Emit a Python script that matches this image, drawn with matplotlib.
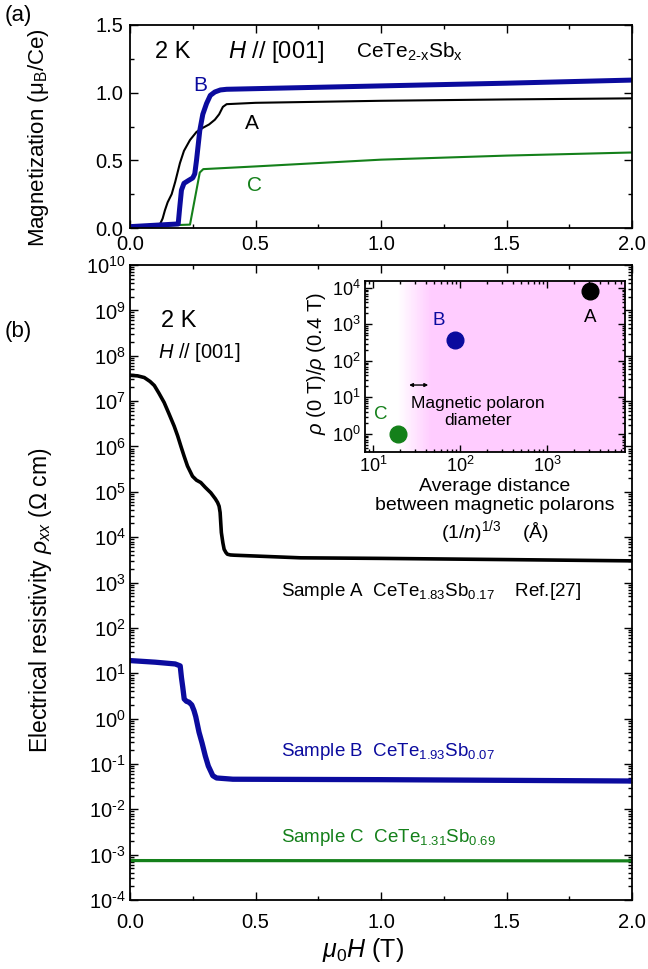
import numpy as np
import matplotlib
matplotlib.use("Agg")
import matplotlib.pyplot as plt
from matplotlib.ticker import (MultipleLocator, LogLocator, NullFormatter, FixedLocator,
                               FormatStrFormatter, FuncFormatter)

plt.rcParams['font.family'] = ['Liberation Sans', 'DejaVu Sans']
plt.rcParams['mathtext.fontset'] = 'custom'
plt.rcParams['mathtext.rm'] = 'Liberation Sans'
plt.rcParams['mathtext.it'] = 'Liberation Sans:italic'
plt.rcParams['mathtext.bf'] = 'Liberation Sans:bold'

# ---------------- data ----------------
# (a) magnetization, M (muB/Ce) vs mu0H (T)
magA_H = [0.0, 0.12, 0.13, 0.139, 0.15, 0.166, 0.18, 0.199, 0.215, 0.239, 0.265, 0.29, 0.315,
          0.338, 0.355, 0.37, 0.385, 0.5, 1.0, 1.5, 2.0]
magA_M = [0.01, 0.03, 0.07, 0.13, 0.19, 0.25, 0.34, 0.48, 0.57, 0.65, 0.71, 0.74, 0.765,
          0.80, 0.84, 0.895, 0.915, 0.925, 0.94, 0.95, 0.958]
magB_H = [0.0, 0.192, 0.198, 0.205, 0.215, 0.232, 0.25, 0.258, 0.265, 0.278, 0.29, 0.305,
          0.32, 0.338, 0.36, 0.385, 1.0, 1.5, 2.0]
magB_M = [0.01, 0.03, 0.15, 0.28, 0.33, 0.35, 0.37, 0.40, 0.50, 0.72, 0.84, 0.92,
          0.98, 1.005, 1.02, 1.025, 1.05, 1.07, 1.093]
magC_H = [0.0, 0.239, 0.278, 0.292, 0.5, 1.0, 1.5, 2.0]
magC_M = [0.01, 0.025, 0.41, 0.435, 0.455, 0.505, 0.535, 0.558]

# (b) resistivity rho_xx (Ohm cm) vs mu0H (T)
resA_H = [0.0, 0.03, 0.057, 0.08, 0.097, 0.115, 0.136, 0.155, 0.176, 0.19, 0.203, 0.216, 0.229,
          0.249, 0.265, 0.282, 0.30, 0.322, 0.34, 0.349, 0.355, 0.359, 0.364, 0.37, 0.375,
          0.382, 0.388, 0.40, 0.415, 0.68, 1.0, 1.5, 2.0]
resA_R = [3.7e7, 3.6e7, 3.3e7, 2.7e7, 2.2e7, 1.5e7, 9.3e6, 5.3e6, 2.8e6, 1.7e6, 1.0e6, 6.0e5, 3.7e5,
          2.2e5, 1.8e5, 1.6e5, 1.25e5, 9.5e4, 7.0e4, 5.8e4, 4.8e4, 3.5e4, 1.26e4, 7.5e3, 5.4e3,
          4.6e3, 4.2e3, 4.05e3, 4.0e3, 3.5e3, 3.4e3, 3.2e3, 3.0e3]
resB_H = [0.0, 0.1, 0.18, 0.2, 0.205, 0.21, 0.216, 0.225, 0.235, 0.246, 0.255, 0.262, 0.275,
          0.287, 0.30, 0.312, 0.33, 0.345, 0.41, 1.0, 2.0]
resB_R = [19, 17.5, 16, 14.5, 8, 5, 2.7, 2.4, 2.3, 2.0, 1.5, 1.1, 0.5,
          0.29, 0.15, 0.09, 0.055, 0.049, 0.046, 0.045, 0.042]
resC_H = [0.0, 1.0, 2.0]
resC_R = [7.4e-4, 7.35e-4, 7.3e-4]

# inset: average distance (A) vs rho(0T)/rho(0.4T)
ins_labels = ['A', 'B', 'C']
ins_dist = [3100, 86, 19]
ins_ratio = [8300, 380, 1.0]

sample_texts = [r'Sample A  CeTe$_{1.83}$Sb$_{0.17}$    Ref.[27]',
                r'Sample B  CeTe$_{1.93}$Sb$_{0.07}$',
                r'Sample C  CeTe$_{1.31}$Sb$_{0.69}$']

cA, cB, cC = 'black', '#0b0b9e', '#14801a'
pink = np.array([1.0, 0.80, 1.0])

W, Hh = 648, 969
fig = plt.figure(figsize=(6.48, 9.69), dpi=100)


def style(ax):
    ax.tick_params(which='both', direction='in', top=True, right=True, width=1.0)
    ax.tick_params(which='major', length=6)
    ax.tick_params(which='minor', length=3)
    for s in ax.spines.values():
        s.set_linewidth(1.3)


def pow10(v, pos):
    e = int(round(np.log10(v)))
    es = str(e).replace('-', r'\text{-}')
    return r'$10^{%s}$' % es


# ---------------- (a) ----------------
axa = fig.add_axes([130/W, 1-228/Hh, 502/W, 203/Hh])
axa.plot(magC_H, magC_M, color=cC, lw=1.5)
axa.plot(magA_H, magA_M, color=cA, lw=1.5)
axa.plot(magB_H, magB_M, color=cB, lw=3.6, solid_capstyle='round', solid_joinstyle='round')
axa.set_xlim(0, 2.0)
axa.set_ylim(0, 1.5)
axa.xaxis.set_major_locator(MultipleLocator(0.5))
axa.xaxis.set_minor_locator(MultipleLocator(0.25))
axa.yaxis.set_major_locator(MultipleLocator(0.5))
axa.yaxis.set_minor_locator(MultipleLocator(0.25))
axa.xaxis.set_major_formatter(FormatStrFormatter('%.1f'))
axa.yaxis.set_major_formatter(FormatStrFormatter('%.1f'))
style(axa)
axa.tick_params(labelsize=14.5, pad=5)
fig.text(39/W, 1-138/Hh, r'Magnetization ($\mathrm{\mu_B}$/Ce)', fontsize=16,
         rotation=90, ha='center', va='center')
axa.text(0.1, 1.30, '2 K', fontsize=17, va='center')
axa.text(0.39, 1.30, r'$H$ // [001]', fontsize=17, va='center')
axa.text(0.90, 1.30, r'CeTe$_{\mathrm{2\text{-}x}}$Sb$_{\mathrm{x}}$', fontsize=15, va='center')
axa.text(0.279, 1.056, 'B', fontsize=15, color=cB, ha='center', va='center')
axa.text(0.486, 0.775, 'A', fontsize=15, color=cA, ha='center', va='center')
axa.text(0.498, 0.316, 'C', fontsize=15, color=cC, ha='center', va='center')

# ---------------- (b) ----------------
axb = fig.add_axes([130/W, 1-900/Hh, 502/W, 635/Hh])
axb.plot(resC_H, resC_R, color=cC, lw=2.3)
axb.plot(resB_H, resB_R, color=cB, lw=3.8, solid_capstyle='round', solid_joinstyle='round')
axb.plot(resA_H, resA_R, color=cA, lw=2.6, solid_capstyle='round', solid_joinstyle='round')
axb.set_yscale('log')
axb.set_xlim(0, 2.0)
axb.set_ylim(1e-4, 1e10)
axb.xaxis.set_major_locator(MultipleLocator(0.5))
axb.xaxis.set_minor_locator(MultipleLocator(0.25))
axb.xaxis.set_major_formatter(FormatStrFormatter('%.1f'))
axb.yaxis.set_major_locator(LogLocator(base=10, numticks=30))
axb.yaxis.set_major_formatter(FuncFormatter(pow10))
axb.yaxis.set_minor_locator(LogLocator(base=10, subs=np.arange(2, 10), numticks=30))
axb.yaxis.set_minor_formatter(NullFormatter())
style(axb)
axb.tick_params(labelsize=14.5)
axb.tick_params(axis='x', pad=9)
axb.tick_params(axis='y', pad=3)
fig.text(41/W, 1-600/Hh, r'Electrical resistivity $\rho_{xx}$ ($\Omega$ cm)', fontsize=16.5,
         rotation=90, ha='center', va='center')
axb.set_xlabel(r'$\mu_0 H$ (T)', fontsize=18)
axb.xaxis.set_label_coords(0.465, -0.056)
axb.text(0.123, 10**8.77, '2 K', fontsize=17, va='center')
axb.text(0.111, 10**8.08, r'$H$ // [001]', fontsize=14.5, va='center')
for txt, yv, col in zip(sample_texts, [10**2.81, 10**-0.73, 10**-2.62], [cA, cB, cC]):
    axb.text(0.60, yv, txt, fontsize=13.5, color=col, va='center')

# ---------------- inset ----------------
axi = fig.add_axes([365/W, 1-452/Hh, 260/W, 171/Hh])
axi.set_xscale('log')
axi.set_yscale('log')
axi.set_xlim(8, 7800)
axi.set_ylim(0.32, 1.55e4)
edges = np.geomspace(19, 46, 40)
for i in range(len(edges) - 1):
    f = (i + 0.5) / (len(edges) - 1)
    col = 1 - f * (1 - pink)
    axi.axvspan(edges[i], edges[i + 1], color=col, lw=0, zorder=0)
axi.axvspan(46, 1e5, color=pink, lw=0, zorder=0)
for lab, xv, yv, col in zip(ins_labels, ins_dist, ins_ratio, [cA, cB, cC]):
    axi.plot(xv, yv, 'o', ms=12, color=col, zorder=3)
axi.text(10**3.49, 10**3.18, 'A', fontsize=13.5, color=cA, ha='center', va='center')
axi.text(10**1.75, 10**3.12, 'B', fontsize=13.5, color=cB, ha='center', va='center')
axi.text(10**1.08, 10**0.52, 'C', fontsize=13.5, color=cC, ha='center', va='center')
axi.annotate('', xy=(10**1.41, 10**1.34), xytext=(10**1.63, 10**1.34),
             arrowprops=dict(arrowstyle='<|-|>', color='black', lw=1.0,
                             mutation_scale=5, shrinkA=0, shrinkB=0))
axi.text(10**2.2, 10**0.6, 'Magnetic polaron\ndiameter', fontsize=12.5, ha='center',
         va='center', linespacing=1.1)
axi.xaxis.set_major_locator(FixedLocator([10, 100, 1000]))
axi.xaxis.set_major_formatter(FuncFormatter(pow10))
axi.xaxis.set_minor_locator(LogLocator(base=10, subs=np.arange(2, 10), numticks=30))
axi.xaxis.set_minor_formatter(NullFormatter())
axi.yaxis.set_major_locator(LogLocator(base=10, numticks=30))
axi.yaxis.set_major_formatter(FuncFormatter(pow10))
axi.yaxis.set_minor_locator(LogLocator(base=10, subs=np.arange(2, 10), numticks=30))
axi.yaxis.set_minor_formatter(NullFormatter())
style(axi)
axi.tick_params(which='major', length=5)
axi.tick_params(which='minor', length=2.5)
axi.tick_params(labelsize=13, pad=3)
fig.text(317/W, 1-364/Hh, r'$\rho$ (0 T)/$\rho$ (0.4 T)', fontsize=14.5,
         rotation=90, ha='center', va='center')
axi.set_xlabel('Average distance\nbetween magnetic polarons\n' + r'(1/$n$)$^{1/3}$    ($\mathrm{\AA}$)',
               fontsize=14, labelpad=1, linespacing=1.2)

fig.text(5/W, 1-16/Hh, '(a)', fontsize=16, va='center')
fig.text(5/W, 1-331/Hh, '(b)', fontsize=16, va='center')

fig.savefig('out.png', dpi=100)
